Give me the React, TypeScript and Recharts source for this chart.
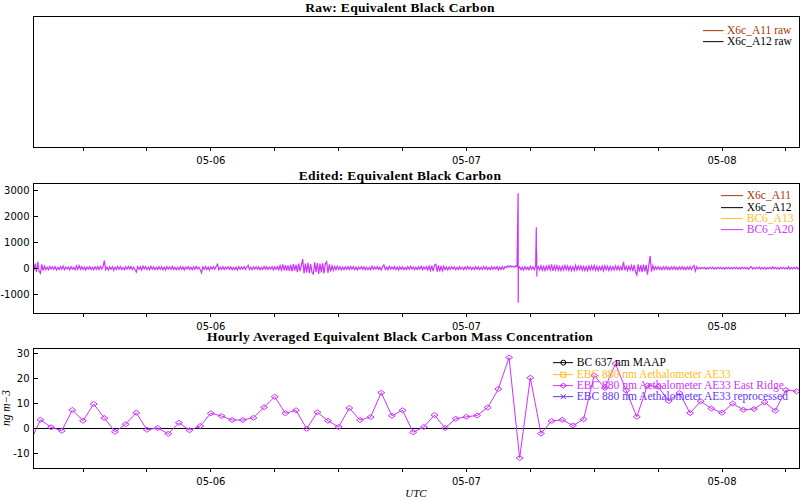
import React from "react";
import { LineChart, Line, XAxis, YAxis, ReferenceLine } from "recharts";

// time axis: hours from 05-06 00:00 UTC
const X_DOMAIN: [number, number] = [-16.7, 55.23];
const HOUR_TICKS = [-12, -6, 0, 6, 12, 18, 24, 30, 36, 42, 48, 54];
const DAY_TICKS = [0, 24, 48];
const DAY_LABELS = ["05-06", "05-07", "05-08"];

// edited panel (7.5 min samples)
const EDITED_DOMAIN: [number, number] = [-1730, 3290];
const EDITED_TICKS = [-1000, 0, 1000, 2000, 3000];
const EDITED_MINOR = [-1500, -1250, -750, -500, -250, 250, 500, 750, 1250, 1500, 1750, 2250, 2500, 2750, 3250];
const EDITED_START = -16.75;
const EDITED_STEP = 0.125;
const EDITED_PART1 = [
  120, -100, 180, -150, 250, -120, -200, 150, -90, 80,
  -50, 40, -60, 70, -30, 50, -40, 60, -70, 30, -50, 60, -40, 80, -60, 40, -30, 50, -70, 60,
  -40, 30, -60, 90, -50, 100, -40, 60, -50, 40, -70, 50, -30, 60, -50, 40, -60, 50,
  -40, 60, -50, 70, -30, 50, 290,
  -60, 40, -70, 50, -40, 60, -80, 40, -50, 70, -40, 60, -50, 30, -60, 50, -40, 70, -30, 60, -50, 40, -60,
  -150, 60, -40, 50, -70, 80, -30, 60, -50, 40, -60, 70, -40, 50, -60, 40, -50, 60,
  -40, 50, -60, 40, -70, 60, -30, 50, -40, 70, -50, 40, -60, 30, -50, 60, -40, 50, -70, 40,
  -30, 60, -50, 40, -60, 50, -40, 70, -30, 40, -60,
  -180, 50, -40, 60, -50, 40, -70, 50, -30, 60, -40, 70, 150, -60, 40, -50, 60,
];
const EDITED_PART2 = [
  -50, 40, -30, 60, -40, 50, -60, 30, -50, 40, -70, 60, -40, 50, -30, 60, -50, 40, 110,
  -50, 40, -60, 50, -30, 60, -40, 50, -60, 30, -50, 70, -40, 60, -50, 40, -30, 60, -70, 50, -40, 60, -60,
  100, -70, 150, -80, 120, -90,
  110, -100, 130, -120, 160, -90, 140, -150, 180, -110, 120, 350,
  -200, 180, -160, 210, -190, 160, -170, -230, 230, -150, 200, -220, 180, -160, 190, -200, 170, 250, -180, 150,
  -120, 90, -80, 70, -60, 80, -50, 60, -70, 40, -60, 50, -40, 60, -50, 70,
  -40, 60, -50, 40, -70, 50, -30, 60, -40, 50, -60, 40, -50, 30, -60, 70, -40, 50, -30, 60, -50, 40, -70, 60, 120,
  -50, 40, -60, 70, -40, 50, -30, 60, -50, 40, -70, 60, -40, 50, -60, 30, -50, 60, -40, 70, -30, 50, -60,
];
const EDITED_PART3 = [
  40, -50, 60, -40, 70, -60, 50, -30, 60, -70, 80, -90, 100,
  -110, 120, 150, -130, 110, -120, 90, -100, 80,
  -50, 40, -70, 50, -40, 60, -30, 50, -60, 40, -50, 60, -40, 30, -60, 50, -40, 70, -30, 50, -60, 40, -50, 60, -40, 50,
  -60, 40, -50, 70, -40, 50, -60, 30, -50, 60, -40, 50, -30, 60, -70, 40, -50, 60, -40,
  60, 20, 90, 40, 100, 50, 80, 30, 90, 60,
  -40, 50, -60, 40, -70, 60, -50, 40, -60, 70, -40, 50, -60, 80, -50, 60, -70, 90, -80,
  70, -90, 80, -60, 100, -70, 150,
  -100, 90, -70, 100, -80, 60, -90, 80, -70, 100, -60, 90, -80, 70, -100, 60, -90, 110, -70, 80,
  -60, 90, -80, 70, -90, 60, -100, 80, -70, 90, -60, 100, -80, 70, -90, 60, -70, 80, -100, 90, -60,
];
const EDITED_PART4 = [
  80, -90, 70, -80, 60, -70, 90, -60, 80, -70, 60, -90, 245,
  -80, 70, -90, 80, -70, 100, -110,
  130, -140, -260, 150, -130, 120, -150, 140, -120, 130, -250, 110, 470, -130, 100,
  -60, 50, -40, 60, -50, 40, -60, 50, -40, 60, -50, 40, -60,
  50, -40, 60, -50, 40, -60, 50, -40, 60, -50, 40, -60, 50, -40, 60, -50, 40, 100, -110, 60,
  -30, 20, -30, 30, -20, 30, -40, 20, -30, 30, -20, 40, -30, 20, -30, 30, -20, 30, -30, 20, -40, 30, -20, 30, -30, 20, -30, 30,
  -20, 30, -30, 20, -30, 40, -20, 30, -30, 20, -40, 30, 60, -30, 20, -30, 30, -20, 40, -30,
  20, -30, 30, -40, 20, -20, 30, -30, 50, -20, 30, -30, 20, -40, 30, -20, 30, -30, 20, -30,
  60, -30, 20, -30, 30, -20, 40, -30, 20, -30,
];
const SPIKE_HOURS = [28.855, 28.865, 30.56, 30.58, 30.6, 30.615];
const SPIKE_VALUES = [2890, -1330, 1580, 100, 630, -320];

// hourly panel
const HOURLY_DOMAIN: [number, number] = [-16, 32];
const HOURLY_TICKS = [-10, 0, 10, 20, 30];
const HOURLY_MINOR = [-15, -12.5, -7.5, -5, -2.5, 2.5, 5, 7.5, 12.5, 15, 17.5, 22.5, 25, 27.5];
const HOURLY_START = -17;
const EAST_RIDGE_0505 = [-6.0, 3.3, 0.3, -1.1, 7.2, 2.9, 9.6, 4.0, -1.5, 1.5, 6.1, -0.7, 0.0, -2.3, 2.1, -0.9, 0.8];
const EAST_RIDGE_0506 = [5.9, 4.8, 3.2, 3.2, 4.1, 8.3, 12.5, 5.9, 7.1, -0.3, 6.3, 2.9, 0.4, 8.0, 3.2, 4.4, 14.1, 4.9, 7.1, -1.7, 0.4, 5.2, 0.0, 3.7];
const EAST_RIDGE_0507 = [4.5, 5.0, 8.2, 15.6, 28.2, -12.0, 20.1, -2.2, 2.8, 3.3, 1.0, 3.5, 21.0, 16.0, 25.7, 15.0, 4.5, 17.0, 16.5, 10.8, 14.0, 6.0, 10.7, 7.8];
const EAST_RIDGE_0508 = [6.1, 9.8, 7.3, 7.6, 10.3, 6.9, 15.2, 14.7];

const C_A11 = "#aa3300";
const C_A12 = "#000000";
const C_A13 = "#ffbb22";
const C_A20 = "#cc33ff";
const C_REPRO = "#6633ff";

const rawData = HOUR_TICKS.map(h => ({ h }));

const editedData = [
  ...[...EDITED_PART1, ...EDITED_PART2, ...EDITED_PART3, ...EDITED_PART4].map((v, i) => ({ h: EDITED_START + i * EDITED_STEP, a20: v })),
  ...SPIKE_HOURS.map((h, i) => ({ h, a20: SPIKE_VALUES[i] })),
].sort((a, b) => a.h - b.h);

const hourlyData = [...EAST_RIDGE_0505, ...EAST_RIDGE_0506, ...EAST_RIDGE_0507, ...EAST_RIDGE_0508].map((v, i) => ({ h: HOURLY_START + i, east: v }));

const dayLabel = (h: number) => {
  const i = DAY_TICKS.indexOf(h);
  return i >= 0 ? DAY_LABELS[i] : "";
};

const TICK_FONT = { fill: "#000", fontSize: 10, fontFamily: "DejaVu Sans" };
const SERIF = "'Liberation Serif', serif";
const TICK_LINE = { stroke: "#000", shapeRendering: "crispEdges" };

type Marker = "circle" | "square" | "diamond" | "cross" | undefined;
type Entry = { name: string; color: string; marker?: Marker };

const ROW = 11.3;

const markerShape = (m: Marker, cx: number, cy: number, color: string) => {
  if (m === "circle") return <circle cx={cx} cy={cy} r={2.5} fill="none" stroke={color} />;
  if (m === "square") return <rect x={cx - 2.5} y={cy - 2.5} width={5} height={5} fill="none" stroke={color} />;
  if (m === "diamond") return <path d={`M${cx - 3.5},${cy}L${cx},${cy - 2.5}L${cx + 3.5},${cy}L${cx},${cy + 2.5}Z`} fill="none" stroke={color} />;
  if (m === "cross") return <path d={`M${cx - 2.5},${cy - 2.5}L${cx + 2.5},${cy + 2.5}M${cx - 2.5},${cy + 2.5}L${cx + 2.5},${cy - 2.5}`} stroke={color} />;
  return null;
};

const LegendBox = ({ left, top, lineW, entries }: { left: number; top: number; lineW: number; entries: Entry[] }) => (
  <div style={{ position: "absolute", left, top }}>
    {entries.map(e => (
      <div key={e.name} style={{ display: "flex", alignItems: "center", height: ROW, whiteSpace: "nowrap" }}>
        <svg width={lineW} height={ROW} style={{ marginRight: 3.5, display: "block" }}>
          <line x1={0} x2={lineW} y1={ROW / 2} y2={ROW / 2} stroke={e.color} />
          {markerShape(e.marker, lineW / 2, ROW / 2, e.color)}
        </svg>
        <span style={{ color: e.color, fontFamily: SERIF, fontSize: 11.5, lineHeight: `${ROW}px` }}>{e.name}</span>
      </div>
    ))}
  </div>
);

const Title = ({ top, text }: { top: number; text: string }) => (
  <div style={{ position: "absolute", left: 0, top, width: 800, textAlign: "center", fontFamily: SERIF, fontWeight: "bold", fontSize: 13.5, letterSpacing: 0.3, lineHeight: "11px" }}>
    {text}
  </div>
);

// plot box outline
const Frame = ({ top, height }: { top: number; height: number }) => (
  <div style={{ position: "absolute", left: 33, top, width: 767, height, border: "1px solid #000", boxSizing: "border-box", pointerEvents: "none" }} />
);

const DiamondDot = (props: any) => {
  const { cx, cy, index } = props;
  if (cx == null || cy == null) return <g key={`d-${index}`} />;
  return (
    <path
      key={`d-${index}`}
      d={`M${cx - 3.5},${cy}L${cx},${cy - 2.5}L${cx + 3.5},${cy}L${cx},${cy + 2.5}Z`}
      fill="none"
      stroke={C_A20}
    />
  );
};

const timeAxis = (
  <XAxis
    dataKey="h"
    type="number"
    domain={X_DOMAIN}
    allowDataOverflow
    ticks={HOUR_TICKS}
    interval={0}
    tickFormatter={dayLabel}
    tick={TICK_FONT}
    tickSize={4}
    tickMargin={6}
    tickLine={TICK_LINE}
    axisLine={false}
    height={20}
  />
);

const App = () => {
  return (
    <div style={{ position: "absolute", left: 0, top: 0, width: 800, height: 500, background: "#fff", overflow: "hidden" }}>
      {/* Raw panel: no raw values in this period */}
      <div style={{ position: "absolute", left: 0, top: 0 }}>
        <LineChart width={800} height={170} data={rawData} margin={{ top: 16, right: 1, bottom: 3, left: 0 }}>
          {timeAxis}
          <YAxis type="number" domain={[0, 1]} allowDataOverflow width={33} tick={false} tickLine={false} axisLine={false} />
          <Line dataKey="a11raw" name="X6c_A11 raw" stroke={C_A11} dot={false} isAnimationActive={false} />
          <Line dataKey="a12raw" name="X6c_A12 raw" stroke={C_A12} dot={false} isAnimationActive={false} />
        </LineChart>
      </div>

      {/* Edited panel */}
      <div style={{ position: "absolute", left: 0, top: 166 }}>
        <LineChart width={800} height={170} data={editedData} margin={{ top: 17, right: 1, bottom: 3, left: 0 }}>
          {timeAxis}
          <YAxis
            yAxisId="minor"
            type="number"
            domain={EDITED_DOMAIN}
            allowDataOverflow
            mirror
            ticks={EDITED_MINOR}
            interval={0}
            tick={false}
            tickSize={3}
            tickLine={TICK_LINE}
            axisLine={false}
          />
          <YAxis
            type="number"
            domain={EDITED_DOMAIN}
            allowDataOverflow
            ticks={EDITED_TICKS}
            interval={0}
            width={33}
            tick={TICK_FONT}
            tickSize={-5}
            tickMargin={8.5}
            tickLine={TICK_LINE}
            axisLine={false}
          />
          <Line dataKey="a11" name="X6c_A11" stroke={C_A11} dot={false} isAnimationActive={false} />
          <Line dataKey="a12" name="X6c_A12" stroke={C_A12} dot={false} isAnimationActive={false} />
          <Line dataKey="a13" name="BC6_A13" stroke={C_A13} dot={false} isAnimationActive={false} />
          <Line dataKey="a20" name="BC6_A20" stroke={C_A20} strokeWidth={1.2} dot={false} isAnimationActive={false} />
        </LineChart>
      </div>

      {/* Hourly panel */}
      <div style={{ position: "absolute", left: 0, top: 330 }}>
        <LineChart width={800} height={170} data={hourlyData} margin={{ top: 18, right: 1, bottom: 12, left: 0 }}>
          {timeAxis}
          <YAxis
            yAxisId="minor"
            type="number"
            domain={HOURLY_DOMAIN}
            allowDataOverflow
            mirror
            ticks={HOURLY_MINOR}
            interval={0}
            tick={false}
            tickSize={3}
            tickLine={TICK_LINE}
            axisLine={false}
          />
          <YAxis
            type="number"
            domain={HOURLY_DOMAIN}
            allowDataOverflow
            ticks={HOURLY_TICKS}
            interval={0}
            width={33}
            tick={TICK_FONT}
            tickSize={-5}
            tickMargin={8.5}
            tickLine={TICK_LINE}
            axisLine={false}
          />
          <ReferenceLine y={0} stroke="#000" shapeRendering="crispEdges" />
          <Line dataKey="maap" name="BC 637 nm MAAP" stroke={C_A12} dot={false} isAnimationActive={false} />
          <Line dataKey="ae33" name="EBC 880 nm Aethalometer AE33" stroke={C_A13} dot={false} isAnimationActive={false} />
          <Line dataKey="east" name="EBC 880 nm Aethalometer AE33 East Ridge" stroke={C_A20} strokeWidth={1} dot={DiamondDot} isAnimationActive={false} />
          <Line dataKey="repro" name="EBC 880 nm Aethalometer AE33 reprocessed" stroke={C_REPRO} dot={false} isAnimationActive={false} />
        </LineChart>
      </div>

      <Frame top={16} height={132} />
      <Frame top={183} height={131} />
      <Frame top={348} height={121} />

      <Title top={1.5} text="Raw: Equivalent Black Carbon" />
      <Title top={169.5} text="Edited: Equivalent Black Carbon" />
      <Title top={331} text="Hourly Averaged Equivalent Black Carbon Mass Concentration" />

      <LegendBox
        left={703}
        top={24.6}
        lineW={20.5}
        entries={[
          { name: "X6c_A11 raw", color: C_A11 },
          { name: "X6c_A12 raw", color: C_A12 },
        ]}
      />
      <LegendBox
        left={720.7}
        top={190.3}
        lineW={22.6}
        entries={[
          { name: "X6c_A11", color: C_A11 },
          { name: "X6c_A12", color: C_A12 },
          { name: "BC6_A13", color: C_A13 },
          { name: "BC6_A20", color: C_A20 },
        ]}
      />
      <LegendBox
        left={552.7}
        top={357.4}
        lineW={20.6}
        entries={[
          { name: "BC 637 nm MAAP", color: C_A12, marker: "circle" },
          { name: "EBC 880 nm Aethalometer AE33", color: C_A13, marker: "square" },
          { name: "EBC 880 nm Aethalometer AE33 East Ridge", color: C_A20, marker: "diamond" },
          { name: "EBC 880 nm Aethalometer AE33 reprocessed", color: C_REPRO, marker: "cross" },
        ]}
      />

      <div style={{ position: "absolute", left: -24, top: 403, width: 60, height: 10, lineHeight: "10px", textAlign: "center", transform: "rotate(-90deg)", fontFamily: SERIF, fontStyle: "italic", fontSize: 11.5 }}>
        ng m−3
      </div>
      <div style={{ position: "absolute", left: 396, top: 486.5, width: 40, textAlign: "center", lineHeight: "12px", fontFamily: SERIF, fontStyle: "italic", fontSize: 11 }}>
        UTC
      </div>
    </div>
  );
};

export default App;
